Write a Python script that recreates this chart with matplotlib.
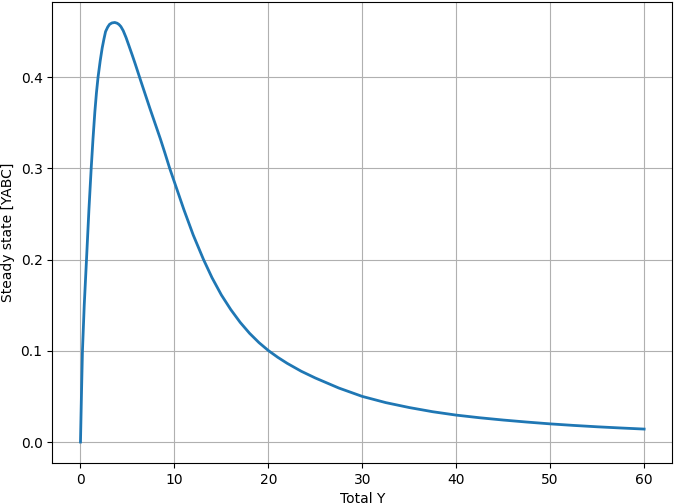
import matplotlib
matplotlib.use("Agg")
import matplotlib.pyplot as plt

total_y = [0, 0.1, 0.21, 0.4, 0.64, 0.9, 1.14, 1.33, 1.53, 1.7, 1.87, 2.1, 2.31,
           2.5, 2.67, 2.9, 3.1, 3.35, 3.65, 3.9, 4.1, 4.3, 4.55, 4.85, 5.16,
           5.5, 5.83, 6.1, 6.4, 6.9, 7.4, 8.0, 8.5, 9.0, 9.5, 10.0, 10.5, 11.0,
           12.0, 13.1, 14.0, 15.0, 16.0, 17.0, 18.0, 19.0, 20.0, 21.0, 22.0,
           23.5, 25.0, 27.5, 30.0, 32.5, 35.0, 37.5, 40.0, 42.5, 45.0, 47.5,
           50.0, 52.5, 55.0, 57.5, 60.0]
steady = [0, 0.05, 0.1, 0.15, 0.2, 0.255, 0.3, 0.332, 0.362, 0.383, 0.4, 0.418,
          0.432, 0.442, 0.45, 0.455, 0.458, 0.4595, 0.46, 0.4592, 0.4578,
          0.4555, 0.451, 0.4435, 0.4345, 0.4245, 0.4145, 0.406, 0.3965, 0.381,
          0.3655, 0.3475, 0.3325, 0.3165, 0.3, 0.285, 0.27, 0.255, 0.227, 0.2,
          0.1802, 0.1612, 0.1452, 0.1312, 0.1192, 0.109, 0.1003, 0.0929,
          0.0863, 0.0776, 0.0702, 0.0592, 0.0500, 0.0432, 0.0378, 0.0332,
          0.0295, 0.0266, 0.0241, 0.0219, 0.0199, 0.0182, 0.0167, 0.0154,
          0.0142]

fig = plt.figure(figsize=(6.74, 5.04), dpi=100)
ax = fig.add_axes([52.3/674, 1 - 463/504, (672.3-52.3)/674, (463-1.5)/504])
ax.plot(total_y, steady, color="#1f77b4", linewidth=2)
ax.set_xlabel("Total Y")
ax.set_ylabel("Steady state [YABC]")
ax.grid(True)
fig.savefig("out.png", dpi=100)
